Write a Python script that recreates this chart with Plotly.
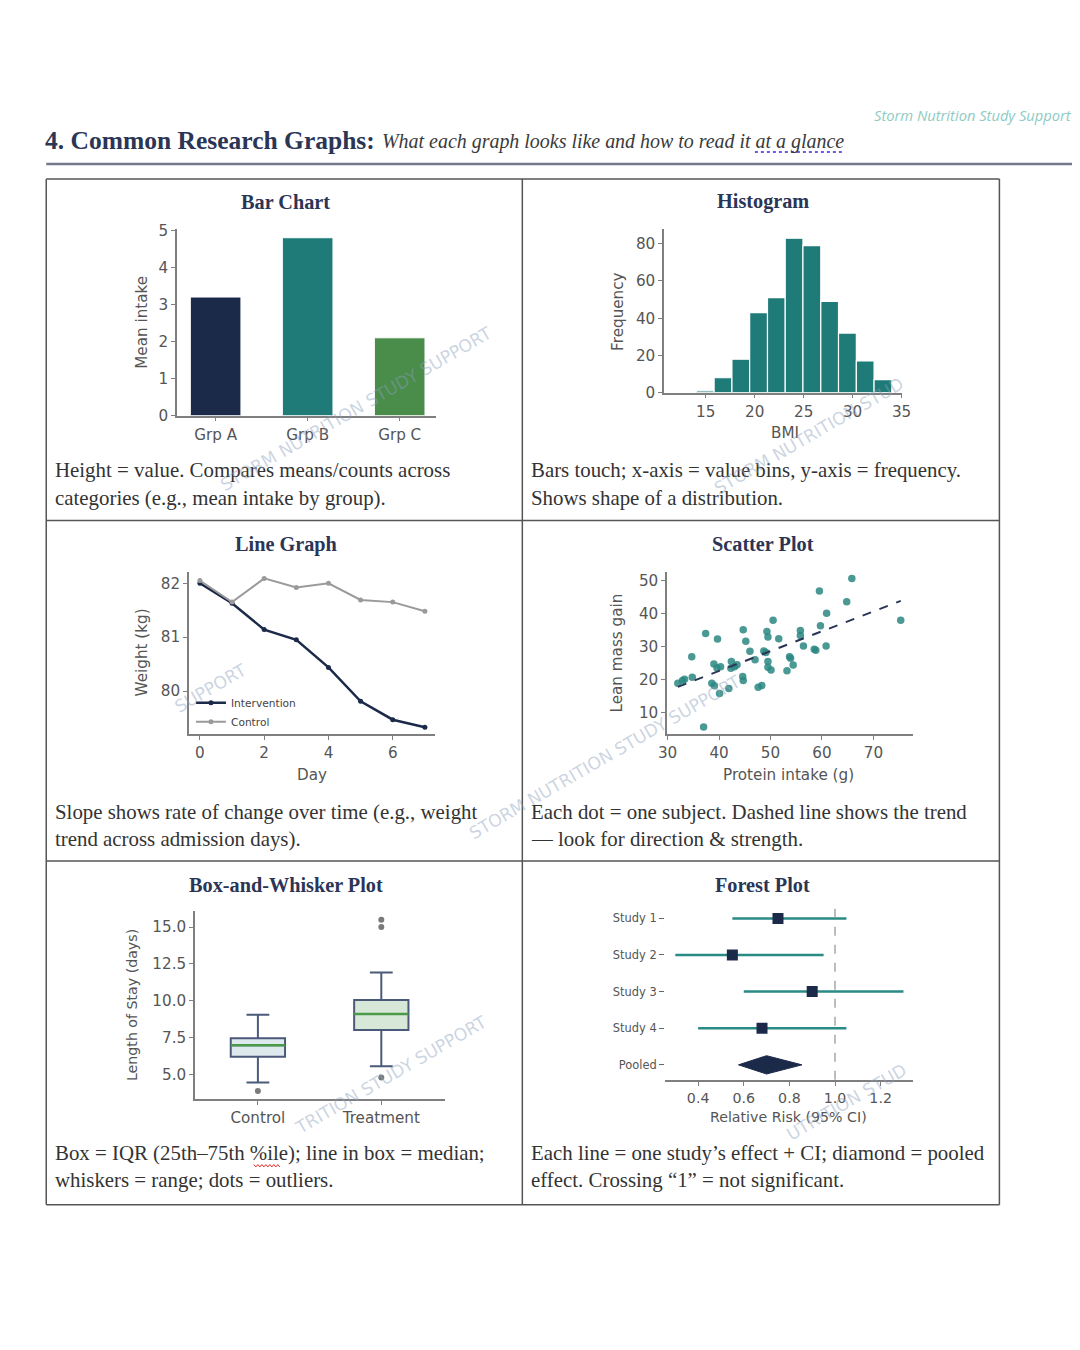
import numpy as np
import plotly.graph_objects as go

W, H = 1080, 1350

# ---------------- data ----------------
bar_groups = ["Grp A", "Grp B", "Grp C"]
bar_values = [3.2, 4.8, 2.1]

bmi_edges = [14.05, 15.86, 17.68, 19.49, 21.31, 23.12, 24.93, 26.75, 28.56, 30.38, 32.19, 34.0]
bmi_counts = [1, 8, 18, 43, 51, 83, 79, 49, 32, 17, 7]

days = [0, 1, 2, 3, 4, 5, 6, 7]
weight_intervention = [82.0, 81.63, 81.14, 80.95, 80.44, 79.81, 79.47, 79.33]
weight_control = [82.05, 81.65, 82.09, 81.92, 82.0, 81.69, 81.65, 81.48]

protein_intake = [65.8, 59.5, 64.8, 60.9, 75.3, 50.5, 59.7, 37.4, 39.7, 44.7, 45.2, 49.3, 49.5,
                  51.6, 55.8, 55.8, 56.4, 60.8, 58.5, 58.8, 34.7, 46.0, 48.7, 49.1, 53.7, 53.9,
                  54.4, 53.2, 49.5, 49.5, 50.1, 39.0, 39.6, 40.3, 42.4, 43.0, 43.5, 42.3, 44.6,
                  44.7, 47.0, 47.6, 48.3, 34.8, 32.0, 32.9, 33.3, 38.6, 39.1, 41.9, 40.1, 37.0]
lean_mass_gain = [50.6, 46.8, 43.5, 40.0, 37.9, 37.9, 36.2, 33.9, 32.2, 35.0, 31.5, 34.5, 32.8,
                  32.3, 34.8, 33.3, 30.1, 30.1, 29.1, 28.8, 26.8, 28.5, 28.6, 28.1, 26.8, 26.4,
                  24.3, 22.6, 25.4, 23.6, 22.8, 24.6, 23.4, 23.8, 25.4, 23.8, 24.4, 23.3, 20.8,
                  19.6, 25.9, 17.6, 18.1, 20.6, 18.8, 19.6, 20.0, 18.8, 18.0, 17.2, 15.7, 5.5]

box_groups = ["Control", "Treatment"]
box_q1 = [6.22, 8.03]
box_median = [7.01, 9.12]
box_q3 = [7.47, 10.07]
box_low = [4.48, 5.59]
box_high = [9.07, 11.92]
outlier_group = [0, 1, 1, 1]
outlier_values = [3.91, 4.82, 15.0, 15.5]

studies = ["Study 1", "Study 2", "Study 3", "Study 4"]
study_rr = [0.75, 0.55, 0.90, 0.68]
study_lo = [0.55, 0.30, 0.60, 0.40]
study_hi = [1.05, 0.95, 1.30, 1.05]
pooled_label = "Pooled"
pooled_rr, pooled_lo, pooled_hi = 0.70, 0.577, 0.855
null_effect = 1.0

# ---------------- styles ----------------
NAVY = "#1c2a4a"
TEAL = "#1e7b78"
GREEN = "#4a8c4a"
SPINE = "#7f7f7f"
TICKC = "#555555"
TITLEC = "#2b3556"
CAPC = "#333333"
SANS = "DejaVu Sans"
SERIF = "Liberation Serif"

# page placement calibration (target pixel -> paper fraction)
SX, BX = 0.9843, 15.7
SY, BY = 0.9893, 13.9
FS = 1 / 0.987


def fx(p):
    return ((p - BX) / SX) / W


def fy(p):
    return 1 - ((p - BY) / SY) / H


def tf(size):
    return dict(family=SANS, size=size * FS, color=TICKC)


def ax(xd, fs=15, **kw):
    d = dict(domain=[fx(xd[0]), fx(xd[1])], showline=True, linecolor=SPINE, linewidth=1.5,
             ticks="outside", ticklen=4, tickwidth=1.2, tickcolor=SPINE, tickfont=tf(fs),
             showgrid=False, zeroline=False, fixedrange=True)
    d.update(kw)
    return d


def ay(yd, fs=15, **kw):
    d = dict(domain=[fy(yd[1]), fy(yd[0])], showline=True, linecolor=SPINE, linewidth=1.5,
             ticks="outside", ticklen=4, tickwidth=1.2, tickcolor=SPINE, tickfont=tf(fs),
             showgrid=False, zeroline=False, fixedrange=True)
    d.update(kw)
    return d


fig = go.Figure()

# ---- 1. Bar chart ----
bar_pos = list(range(len(bar_groups)))
fig.add_trace(go.Bar(x=bar_pos, y=bar_values, width=0.55,
                     marker=dict(color=[NAVY, TEAL, GREEN], line=dict(color="white", width=1)),
                     xaxis="x", yaxis="y", showlegend=False))

# ---- 2. Histogram ----
edges = np.array(bmi_edges)
centers = (edges[:-1] + edges[1:]) / 2
widths = np.diff(edges)
fig.add_trace(go.Bar(x=centers, y=bmi_counts, width=widths,
                     marker=dict(color=TEAL, line=dict(color="white", width=1.2)),
                     xaxis="x2", yaxis="y2", showlegend=False))

# ---- 3. Line graph ----
fig.add_trace(go.Scatter(x=days, y=weight_intervention, mode="lines+markers", name="Intervention",
                         line=dict(color=NAVY, width=2.5), marker=dict(size=5, color=NAVY),
                         xaxis="x3", yaxis="y3"))
fig.add_trace(go.Scatter(x=days, y=weight_control, mode="lines+markers", name="Control",
                         line=dict(color="#9a9a9a", width=2), marker=dict(size=5, color="#9a9a9a"),
                         xaxis="x3", yaxis="y3"))

# ---- 4. Scatter ----
fig.add_trace(go.Scatter(x=protein_intake, y=lean_mass_gain, mode="markers",
                         marker=dict(size=7.5, color="#2a8782", opacity=0.85),
                         xaxis="x4", yaxis="y4", showlegend=False))
px_arr = np.array(protein_intake)
slope, intercept = np.polyfit(px_arr, np.array(lean_mass_gain), 1)
fit_x = np.array([px_arr.min(), px_arr.max()])
fig.add_trace(go.Scatter(x=fit_x, y=slope * fit_x + intercept, mode="lines",
                         line=dict(color="#2b3556", width=2, dash="dash"),
                         xaxis="x4", yaxis="y4", showlegend=False))

# ---- 5. Box plot ----
box_fill = ["#dde9ec", "#d8e8d8"]
box_w = 0.44
for i in range(len(box_groups)):
    fig.add_trace(go.Box(x=[i], q1=[box_q1[i]], median=[box_median[i]], q3=[box_q3[i]],
                         lowerfence=[box_low[i]], upperfence=[box_high[i]],
                         width=box_w, whiskerwidth=0.42, fillcolor=box_fill[i],
                         line=dict(color="#4b5a7a", width=2), boxpoints=False,
                         xaxis="x5", yaxis="y5", showlegend=False))
    fig.add_trace(go.Scatter(x=[i - box_w / 2, i + box_w / 2], y=[box_median[i]] * 2, mode="lines",
                             line=dict(color="#4a9a4a", width=2.5),
                             xaxis="x5", yaxis="y5", showlegend=False))
fig.add_trace(go.Scatter(x=outlier_group, y=outlier_values, mode="markers",
                         marker=dict(size=6, color="#7a7a7a"),
                         xaxis="x5", yaxis="y5", showlegend=False))

# ---- 6. Forest plot ----
n = len(studies)
ypos = list(range(n, 0, -1))
ci_x, ci_y = [], []
for i in range(n):
    ci_x += [study_lo[i], study_hi[i], None]
    ci_y += [ypos[i], ypos[i], None]
fig.add_trace(go.Scatter(x=ci_x, y=ci_y, mode="lines", line=dict(color="#2a8a85", width=2.5),
                         xaxis="x6", yaxis="y6", showlegend=False))
fig.add_trace(go.Scatter(x=study_rr, y=ypos, mode="markers",
                         marker=dict(symbol="square", size=11, color=NAVY),
                         xaxis="x6", yaxis="y6", showlegend=False))
dh = 0.25
fig.add_trace(go.Scatter(x=[pooled_lo, pooled_rr, pooled_hi, pooled_rr, pooled_lo],
                         y=[0, dh, 0, -dh, 0], mode="lines", fill="toself",
                         fillcolor=NAVY, line=dict(color=NAVY, width=1),
                         xaxis="x6", yaxis="y6", showlegend=False))

layout = dict(
    width=W, height=H, margin=dict(l=0, r=0, t=0, b=0),
    paper_bgcolor="white", plot_bgcolor="white", hovermode=False,
    xaxis=ax((176, 436), anchor="y", range=[-0.42, 2.40], tickvals=bar_pos, ticktext=bar_groups),
    yaxis=ay((228, 415), anchor="x", range=[0, 5.04], tickvals=[0, 1, 2, 3, 4, 5]),
    xaxis2=ax((664, 902), anchor="y2", range=[10.75, 35.0], tickvals=[15, 20, 25, 30, 35]),
    yaxis2=ay((228, 392), anchor="x2", range=[0, 88], tickvals=[0, 20, 40, 60, 80]),
    xaxis3=ax((188, 435), anchor="y3", range=[-0.34, 7.33], tickvals=[0, 2, 4, 6]),
    yaxis3=ay((572, 734), anchor="x3", range=[79.2, 82.2], tickvals=[80, 81, 82]),
    xaxis4=ax((667, 913), anchor="y4", range=[29.9, 77.6], tickvals=[30, 40, 50, 60, 70]),
    yaxis4=ay((572, 734), anchor="x4", range=[3.3, 52.4], tickvals=[10, 20, 30, 40, 50]),
    xaxis5=ax((194, 445), anchor="y5", range=[-0.51, 1.52], tickvals=[0, 1], ticktext=box_groups),
    yaxis5=ay((911, 1099), anchor="x5", range=[3.38, 16.08], tickvals=[5, 7.5, 10, 12.5, 15],
              tickformat=".1f"),
    xaxis6=ax((665, 913), fs=14, anchor="y6", range=[0.255, 1.34],
              tickvals=[0.4, 0.6, 0.8, 1.0, 1.2], ticktext=["0.4", "0.6", "0.8", "1.0", "1.2"]),
    yaxis6=ay((900, 1080), fs=11.3, anchor="x6", range=[-0.41, 4.5], showline=False, ticklen=5,
              tickcolor="#666", tickvals=ypos + [0], ticktext=studies + [pooled_label]),
    legend=dict(x=fx(190), y=fy(688), xanchor="left", yanchor="top", bgcolor="rgba(0,0,0,0)",
                font=dict(family=SANS, size=10.5 * FS, color="#444"), tracegroupgap=0,
                itemwidth=30),
)
fig.update_layout(**layout)

# ---------------- shapes ----------------
shapes = []
LINEC = "#555555"


def line_px(x0, y0, x1, y1, color=LINEC, width=1.5, dash="solid"):
    shapes.append(dict(type="line", xref="paper", yref="paper", x0=fx(x0), x1=fx(x1),
                       y0=fy(y0), y1=fy(y1), line=dict(color=color, width=width, dash=dash)))


line_px(45, 163, 1078, 163, color="#737a8c", width=2.5)
line_px(45, 178, 1000, 178)
line_px(45, 520, 1000, 520)
line_px(45, 861, 1000, 861)
line_px(45, 1205, 1000, 1205)
line_px(45, 178, 45, 1205)
line_px(522, 178, 522, 1205)
line_px(1000, 178, 1000, 1205)
# proofing marks carried over from the source document
line_px(755, 151, 844, 151, color="#6a5be0", width=2, dash="dot")
zig = []
xx = 253.0
k = 0
while xx <= 280:
    zig.append((fx(xx), fy(1166 + (1.2 if k % 2 else -1.2))))
    xx += 2.0
    k += 1
path = "M " + " L ".join("%.5f,%.5f" % p for p in zig)
shapes.append(dict(type="path", xref="paper", yref="paper", path=path,
                   line=dict(color="#e03030", width=1)))
shapes.append(dict(type="line", xref="x6", yref="y6 domain", x0=null_effect, x1=null_effect,
                   y0=0, y1=1, line=dict(color="#999999", width=1.3, dash="dash")))
fig.update_layout(shapes=shapes)

# ---------------- text ----------------
ann = []


def text(x, y, s, size=15, color=TICKC, family=SANS, xanchor="center", angle=0, yanchor="middle"):
    ann.append(dict(x=fx(x), y=fy(y), xref="paper", yref="paper", text=s, showarrow=False,
                    xanchor=xanchor, yanchor=yanchor, textangle=angle,
                    font=dict(family=family, size=size * FS, color=color)))


# header
text(1075, 114, "<i>Storm Nutrition Study Support</i>", size=14.5, color="#8ecbc3",
     family="Open Sans", xanchor="right")
text(42, 140, "<b>4. Common Research Graphs:</b>", size=25.2, color=TITLEC, family=SERIF,
     xanchor="left")
text(379, 141, "<i>What each graph looks like and how to read it at a glance</i>", size=19.7,
     color="#3a3a3a", family=SERIF, xanchor="left")

# panel titles
for (x, y, s) in [(285, 201, "Bar Chart"), (763, 201, "Histogram"), (285, 544, "Line Graph"),
                  (763, 544, "Scatter Plot"), (285, 885, "Box-and-Whisker Plot"),
                  (763, 885, "Forest Plot")]:
    text(x, y, "<b>%s</b>" % s, size=20, color=TITLEC, family=SERIF)

# axis titles
text(141, 322, "Mean intake", angle=-90)
text(618, 311, "Frequency", angle=-90)
text(785, 432, "BMI")
text(141, 652, "Weight (kg)", angle=-90)
text(311, 775, "Day")
text(617, 653, "Lean mass gain", angle=-90)
text(789, 775, "Protein intake (g)")
text(131, 1005, "Length of Stay (days)", size=14, angle=-90)
text(789, 1117, "Relative Risk (95% CI)", size=14)

# captions
caps = [
    (52, 469, "Height = value. Compares means/counts across"),
    (52, 497, "categories (e.g., mean intake by group)."),
    (529, 469, "Bars touch; x-axis = value bins, y-axis = frequency."),
    (529, 497, "Shows shape of a distribution."),
    (52, 812, "Slope shows rate of change over time (e.g., weight"),
    (52, 839, "trend across admission days)."),
    (529, 812, "Each dot = one subject. Dashed line shows the trend"),
    (529, 839, "\u2014 look for direction &amp; strength."),
    (52, 1153, "Box = IQR (25th\u201375th %ile); line in box = median;"),
    (52, 1180, "whiskers = range; dots = outliers."),
    (529, 1153, "Each line = one study\u2019s effect + CI; diamond = pooled"),
    (529, 1180, "effect. Crossing \u201c1\u201d = not significant."),
]
for x, y, s in caps:
    text(x, y, s, size=20.6, color=CAPC, family=SERIF, xanchor="left")

# watermarks
WM = "rgba(140,160,190,0.45)"
for (x, y, s) in [(355, 408, "STORM NUTRITION STUDY SUPPORT"),
                  (809, 435, "STORM NUTRITION STUD"),
                  (210, 688, "SUPPORT"),
                  (605, 757, "STORM NUTRITION STUDY SUPPORT"),
                  (390, 1075, "TRITION STUDY SUPPORT"),
                  (847, 1102, "UTRITION STUD")]:
    text(x, y, s, size=17, color=WM, angle=-30)

fig.update_layout(annotations=ann)
fig.write_html("out.html")
